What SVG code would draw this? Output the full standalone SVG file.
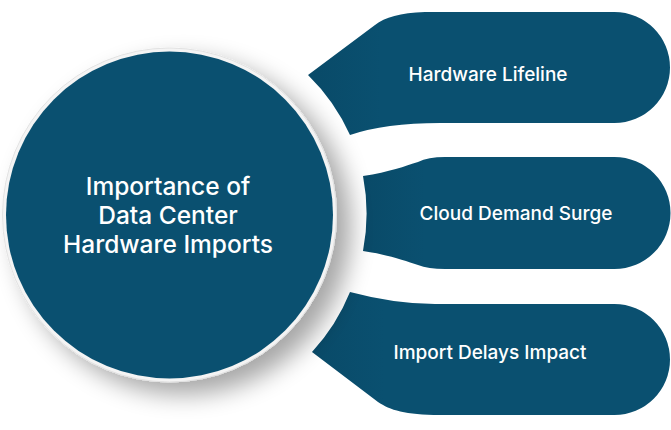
<svg xmlns="http://www.w3.org/2000/svg" width="671" height="430" viewBox="0 0 671 430">
  <defs>
    <style>
      .node { fill: #0a5070; }
      .shape { fill: url(#leftShade); }
      .label { font-family: Inter, "Liberation Sans", sans-serif; font-weight: 500; fill: #ffffff; text-anchor: middle; dominant-baseline: central; }
      .small { font-size: 19px; }
      .big { font-size: 24.5px; }
    </style>
    <filter id="shadow" x="-30%" y="-30%" width="170%" height="170%">
      <feGaussianBlur in="SourceAlpha" stdDeviation="12"/>
      <feOffset dx="14" dy="12" result="b"/>
      <feComponentTransfer><feFuncA type="linear" slope="0.35"/></feComponentTransfer>
      <feMerge><feMergeNode/><feMergeNode in="SourceGraphic"/></feMerge>
    </filter>
    <linearGradient id="leftShade" x1="0" y1="0" x2="1" y2="0">
      <stop offset="0" stop-color="#094a68"/>
      <stop offset="0.2" stop-color="#0a5070"/>
      <stop offset="1" stop-color="#0a5070"/>
    </linearGradient>
  </defs>
  <rect width="671" height="430" fill="#ffffff"/>
  <g id="connectors"/>
  <g id="node-hardware-lifeline">
    <path class="shape" d="M308,75 L375,25 C385,17 400,13 425,12 L614.5,12 A55.5,55.5 0 0 1 614.5,123 L440,123 Q385,123 350,135 A198,198 0 0 0 308,75 Z"/>
    <text class="label small" x="488" y="74">Hardware Lifeline</text>
  </g>
  <g id="node-cloud-demand">
    <path class="shape" d="M363,176 C390,172 405,166 418,162 Q428,157 445,157 L614.5,157 A56,56 0 0 1 614.5,269 L445,269 Q428,269 418,265 C405,261 390,255 363,251 A198,198 0 0 0 363,176 Z"/>
    <text class="label small" x="516" y="213">Cloud Demand Surge</text>
  </g>
  <g id="node-import-delays">
    <path class="shape" d="M350,292 Q395,304 435,304 L614.5,304 A55.5,55.5 0 0 1 614.5,415 L440,415 C405,415 390,410 378,402 L312,352 A198,198 0 0 0 350,292 Z"/>
    <text class="label small" x="490" y="352">Import Delays Impact</text>
  </g>
  <g id="node-center">
    <circle cx="169.5" cy="215" r="167" fill="#f4f4f4" stroke="#e2e2e2" stroke-width="1" filter="url(#shadow)"/>
    <circle class="node" cx="169.5" cy="215" r="163.5"/>
    <text class="label big" x="168" y="186">Importance of</text>
    <text class="label big" x="168" y="215">Data Center</text>
    <text class="label big" x="168" y="244">Hardware Imports</text>
  </g>
</svg>
